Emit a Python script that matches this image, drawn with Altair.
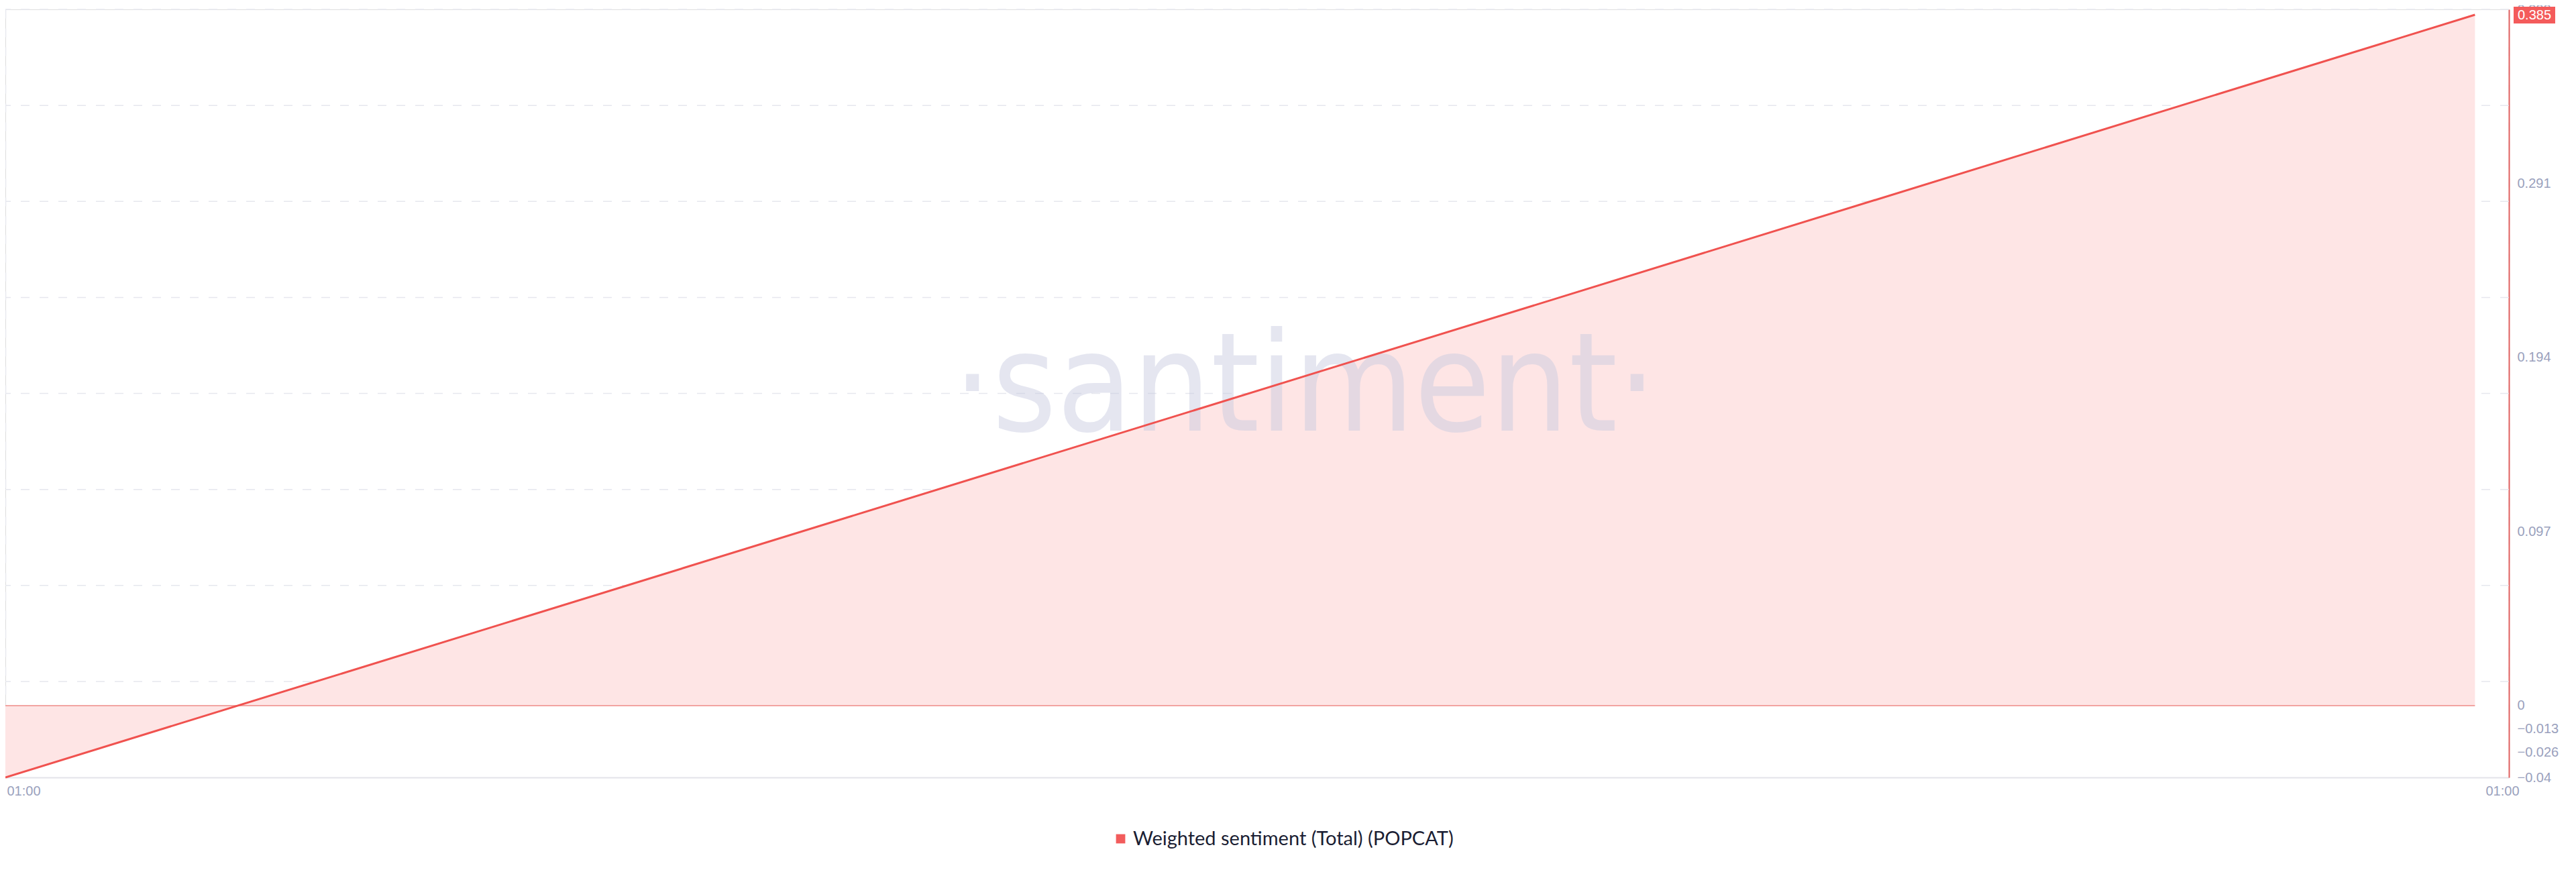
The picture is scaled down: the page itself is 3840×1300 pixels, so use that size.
import altair as alt
import pandas as pd

# ---- data ----
hours = [0, 24]
values = [-0.04, 0.385]
series_name = "Weighted sentiment (Total) (POPCAT)"
x_tick_labels = ["01:00", "01:00"]
x_domain = [0, 24.33]
y_domain = [-0.04, 0.388]
y_tick_values = [0.388, 0.291, 0.194, 0.097, 0, -0.013, -0.026, -0.04]
watermark = ["·santiment·"]

W, H = 3732, 1145
RED = "#f0524f"
FILL = "#fee5e5"
LABEL = "#9aa1bd"

df = pd.DataFrame({"h": hours, "v": values, "s": [series_name] * len(hours)})
n_grid = 8
grid_df = pd.DataFrame({"g": [y_domain[0] + k * (y_domain[1] - y_domain[0]) / n_grid
                              for k in range(1, n_grid + 1)]})
last_df = pd.DataFrame({"v": [values[-1]], "t": [f"{values[-1]:.3f}"]})
wm_df = pd.DataFrame({"t": watermark})
zero_df = pd.DataFrame({"h": [hours[0]], "h2": [hours[-1]], "z": [0]})

xs = alt.Scale(domain=x_domain, nice=False, zero=False)
ys = alt.Scale(domain=y_domain, nice=False, zero=False)

lab_arr = "[" + ",".join(f"'{t}'" for t in x_tick_labels) + "]"

x_axis = alt.Axis(
    values=x_domain, labelExpr=f"{lab_arr}[datum.index]", title=None,
    ticks=False, domainColor="#e3e4ea", domainWidth=2,
    grid=True, gridDash=[13, 15], gridColor="#e6e7ee", gridWidth=1.5,
    labelFont="Liberation Sans", labelFontSize=20, labelColor=LABEL, labelPadding=10,
    labelAlign={"expr": "datum.index === 0 ? 'left' : 'center'"},
    labelOffset={"expr": "datum.index === 0 ? 2 : -10"},
)
y_axis = alt.Axis(
    orient="right", values=y_tick_values, title=None, grid=False, ticks=False,
    domainColor="#e0605f", domainWidth=2, labelPadding=12, labelOverlap=False,
    labelFont="Liberation Sans", labelFontSize=20, labelColor=LABEL,
    labelExpr="datum.value == 0 ? '0' : format(datum.value, '.3~f')",
)

grid = alt.Chart(grid_df).mark_rule(strokeDash=[13, 15], color="#e6e7ee", strokeWidth=1.5).encode(
    y=alt.Y("g:Q", scale=ys, axis=y_axis)
)

area = alt.Chart(df).mark_area(color=FILL, opacity=1).encode(
    x=alt.X("h:Q", scale=xs, axis=x_axis),
    y=alt.Y("v:Q", scale=ys, axis=y_axis),
    y2=alt.datum(0),
)

zero_rule = alt.Chart(zero_df).mark_rule(color="#ee8a86", strokeWidth=1.5).encode(
    x=alt.X("h:Q", scale=xs, axis=x_axis), x2="h2:Q", y=alt.Y("z:Q", scale=ys, axis=y_axis)
)

wm = alt.Chart(wm_df).mark_text(
    font="Liberation Sans Narrow, DejaVu Sans Condensed, Open Sans", fontSize=205,
    color="#c6cae0", opacity=0.45, align="center", baseline="alphabetic",
).encode(text="t:N", x=alt.value(1937), y=alt.value(628))

line = alt.Chart(df).mark_line(strokeWidth=3).encode(
    x=alt.X("h:Q", scale=xs, axis=x_axis),
    y=alt.Y("v:Q", scale=ys, axis=y_axis),
    color=alt.Color("s:N", scale=alt.Scale(domain=[series_name], range=[RED]),
                    legend=alt.Legend(
                        title=None, orient="none", legendX=1648, legendY=1222,
                        symbolType="square", symbolSize=190, symbolFillColor="#f25c5c",
                        symbolStrokeWidth=0, labelFont="Lato", labelFontSize=29,
                        labelColor="#1b1e33", labelLimit=1000, padding=0,
                    )),
)

badge = alt.Chart(last_df).mark_rect(color="#f45b5b", yOffset=-12, y2Offset=13).encode(
    x=alt.value(W + 7), x2=alt.value(W + 69),
    y=alt.Y("v:Q", scale=ys, axis=y_axis), y2=alt.Y2("v:Q"),
)
badge_text = alt.Chart(last_df).mark_text(
    color="white", font="Liberation Sans", fontSize=20, align="center", baseline="middle", dy=1,
).encode(x=alt.value(W + 38), y=alt.Y("v:Q", scale=ys, axis=y_axis), text="t:N")

chart = alt.layer(grid, area, zero_rule, wm, line, badge, badge_text).properties(
    width=W, height=H,
    autosize=alt.AutoSizeParams(type="none"),
    padding={"left": 0, "top": 6, "right": 90, "bottom": 120},
).configure_view(stroke=None).configure(background="white")

chart.save("out.html", embed_options={"renderer": "svg", "actions": False})
